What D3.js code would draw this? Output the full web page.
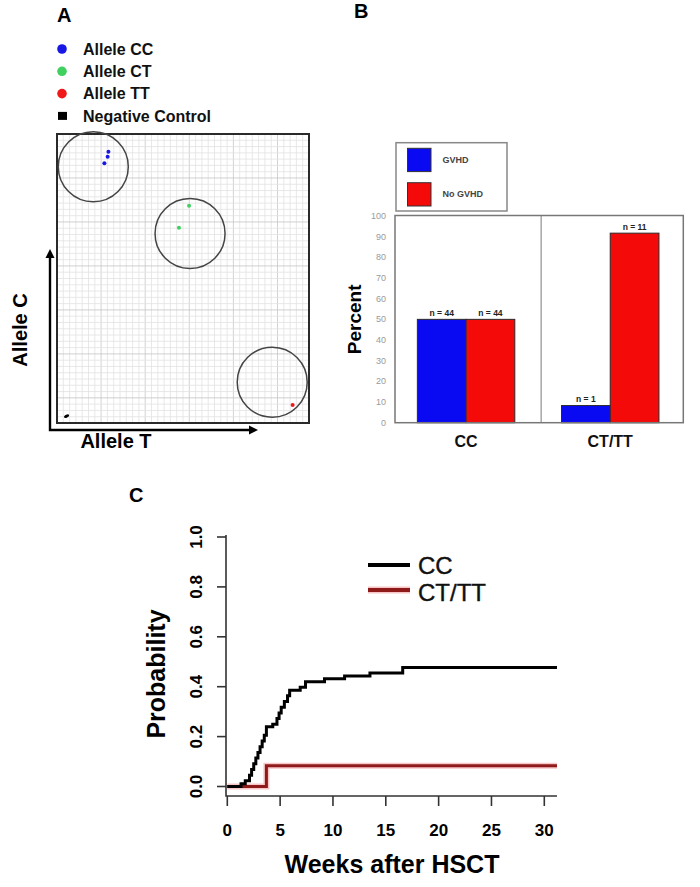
<!DOCTYPE html>
<html><head><meta charset="utf-8">
<script src="https://cdn.jsdelivr.net/npm/d3@7"></script>
<style>body{margin:0;background:#fff}svg{display:block}text{font-family:"Liberation Sans",Arial,sans-serif}</style>
</head><body><svg id="c" width="700" height="887"></svg>
<script>
// ---------- Panel A data ----------
const legendALabels = ["Allele CC", "Allele CT", "Allele TT", "Negative Control"];
const legendAColors = ["#1717e6", "#3fd060", "#f01818", "#000000"];
const clusterX = [0.144, 0.528, 0.854];
const clusterY = [0.887, 0.656, 0.141];
const pointX = [0.204, 0.201, 0.188, 0.524, 0.484, 0.935];
const pointY = [0.939, 0.921, 0.899, 0.752, 0.676, 0.062];
const pointGroup = [0, 0, 0, 1, 1, 2];
const ntcX = [0.038];
const ntcY = [0.024];

// ---------- Panel B data ----------
const genotypes = ["CC", "CT/TT"];
const outcomes = ["GVHD", "No GVHD"];
const outcomeColors = ["#0a0af2", "#f50a0a"];
const gvhdPct = [50, 8.3];
const noGvhdPct = [50, 91.7];
const gvhdN = ["n = 44", "n = 1"];
const noGvhdN = ["n = 44", "n = 11"];
const pctTicks = [0, 10, 20, 30, 40, 50, 60, 70, 80, 90, 100];

// ---------- Panel C data ----------
const weekTicks = [0, 5, 10, 15, 20, 25, 30];
const probTicks = [0.0, 0.2, 0.4, 0.6, 0.8, 1.0];
const ccWeeks = [0, 1.3, 1.7, 2.1, 2.3, 2.5, 2.7, 2.9, 3.1, 3.3, 3.5, 3.7, 4.3, 4.7, 4.9, 5.1, 5.4, 5.7, 5.9, 6.9, 7.4, 9.2, 11.1, 13.5, 16.6];
const ccProb = [0, 0.011, 0.023, 0.045, 0.068, 0.091, 0.114, 0.136, 0.159, 0.182, 0.205, 0.239, 0.25, 0.273, 0.295, 0.318, 0.341, 0.364, 0.386, 0.398, 0.42, 0.432, 0.443, 0.455, 0.477];
const ctWeeks = [0, 3.7];
const ctProb = [0, 0.083];
const lastWeek = 31.2;
const survLabels = ["CC", "CT/TT"];

const svg = d3.select("#c");
svg.append("rect").attr("width", 700).attr("height", 887).attr("fill", "#fff");

// ================= Panel A =================
const A = svg.append("g");
A.append("text").attr("x", 57).attr("y", 22).attr("font-size", 20).attr("font-weight", "bold").text("A");
legendALabels.forEach((l, i) => {
  const cy = 49 + i * 22.3;
  if (i < 3) A.append("circle").attr("cx", 62).attr("cy", cy).attr("r", 4.8).attr("fill", legendAColors[i]);
  else A.append("rect").attr("x", 58).attr("y", cy - 4).attr("width", 9).attr("height", 8).attr("fill", "#000");
  A.append("text").attr("x", 83).attr("y", cy + 5.8).attr("font-size", 16).attr("font-weight", "bold").attr("fill", "#111").text(l);
});
const ax = d3.scaleLinear().domain([0, 1]).range([57, 309]);
const ay = d3.scaleLinear().domain([0, 1]).range([423, 134]);
const nCols = 40, nRows = 46;
const gGrid = A.append("g");
d3.range(1, nCols).forEach(k => {
  gGrid.append("line").attr("x1", ax(k / nCols)).attr("x2", ax(k / nCols)).attr("y1", ay(0)).attr("y2", ay(1))
    .attr("stroke", k % 7 === 0 ? "#c8c8c8" : "#e2e2e2").attr("stroke-width", 0.8);
});
d3.range(1, nRows).forEach(k => {
  gGrid.append("line").attr("y1", ay(k / nRows)).attr("y2", ay(k / nRows)).attr("x1", ax(0)).attr("x2", ax(1))
    .attr("stroke", (k - 4) % 7 === 0 ? "#c4c4c4" : "#e2e2e2").attr("stroke-width", 0.8);
});
A.append("rect").attr("x", ax(0)).attr("y", ay(1)).attr("width", ax(1) - ax(0)).attr("height", ay(0) - ay(1))
  .attr("fill", "none").attr("stroke", "#2a2a2a").attr("stroke-width", 2);
clusterX.forEach((cx, i) => {
  A.append("circle").attr("cx", ax(cx)).attr("cy", ay(clusterY[i])).attr("r", 35)
    .attr("fill", "none").attr("stroke", "#444").attr("stroke-width", 1.5);
});
pointX.forEach((px, i) => {
  A.append("circle").attr("cx", ax(px)).attr("cy", ay(pointY[i])).attr("r", 2).attr("fill", legendAColors[pointGroup[i]]);
});
ntcX.forEach((px, i) => {
  A.append("ellipse").attr("cx", ax(px)).attr("cy", ay(ntcY[i])).attr("rx", 2.8).attr("ry", 1.5)
    .attr("transform", `rotate(-25,${ax(px)},${ay(ntcY[i])})`).attr("fill", "#000");
});
// arrows
A.append("path").attr("d", "M50,430 L50,256 M48.8,430 L251,430").attr("stroke", "#000").attr("stroke-width", 2.4).attr("fill", "none");
A.append("path").attr("d", "M50,249 L45.5,258 L54.5,258 Z").attr("fill", "#000");
A.append("path").attr("d", "M258,430 L249,425.5 L249,434.5 Z").attr("fill", "#000");
A.append("text").attr("transform", "translate(27,330) rotate(-90)").attr("text-anchor", "middle")
  .attr("font-size", 20).attr("font-weight", "bold").text("Allele C");
A.append("text").attr("x", 116).attr("y", 448).attr("text-anchor", "middle")
  .attr("font-size", 20).attr("font-weight", "bold").text("Allele T");

// ================= Panel B =================
const B = svg.append("g");
B.append("text").attr("x", 354).attr("y", 18).attr("font-size", 20).attr("font-weight", "bold").text("B");
// legend
B.append("rect").attr("x", 396).attr("y", 142.7).attr("width", 111).attr("height", 68.3)
  .attr("fill", "#fff").attr("stroke", "#888").attr("stroke-width", 1.5);
outcomes.forEach((o, i) => {
  const y0 = 148.3 + i * 34.4;
  B.append("rect").attr("x", 407.5).attr("y", y0).attr("width", 23.5).attr("height", 23.3)
    .attr("fill", outcomeColors[i]).attr("stroke", "#333").attr("stroke-width", 1);
  B.append("text").attr("x", 442.5).attr("y", y0 + 14.5).attr("font-size", 9).attr("font-weight", "bold")
    .attr("fill", "#444").text(o);
});
const by = d3.scaleLinear().domain([0, 100]).range([422.7, 216]);
const bx = d3.scaleBand().domain(genotypes).range([395, 683.3]).paddingInner(0).paddingOuter(0);
const barW = bx.bandwidth() * 0.338;
B.selectAll(".ytl").data(pctTicks).enter().append("text")
  .attr("x", 386).attr("y", d => by(d) + 3).attr("text-anchor", "end")
  .attr("font-size", 9).attr("fill", "#9a9a9a").text(d => d);
B.append("text").attr("transform", `translate(361,${(by(0) + by(100)) / 2 + 0}) rotate(-90)`)
  .attr("text-anchor", "middle").attr("font-size", 19).attr("font-weight", "bold").text("Percent");
// bars
genotypes.forEach((g, i) => {
  const cx = bx(g) + bx.bandwidth() / 2 - 1;
  [[gvhdPct[i], gvhdN[i], 0], [noGvhdPct[i], noGvhdN[i], 1]].forEach(([v, n, k]) => {
    const x0 = k === 0 ? cx - barW : cx;
    B.append("rect").attr("x", x0).attr("y", by(v)).attr("width", barW).attr("height", by(0) - by(v))
      .attr("fill", outcomeColors[k]).attr("stroke", "#2a2a2a").attr("stroke-width", 1);
    B.append("text").attr("x", x0 + barW / 2).attr("y", by(v) - 3.5).attr("text-anchor", "middle")
      .attr("font-size", 8.5).attr("font-weight", "bold").attr("fill", "#222").text(n);
  });
  B.append("text").attr("x", cx).attr("y", 447).attr("text-anchor", "middle")
    .attr("font-size", 16).attr("font-weight", "bold").attr("fill", "#111").text(g);
});
B.append("line").attr("x1", bx(genotypes[1]) + 2).attr("x2", bx(genotypes[1]) + 2).attr("y1", by(100)).attr("y2", by(0))
  .attr("stroke", "#999").attr("stroke-width", 1.3);
B.append("rect").attr("x", 395).attr("y", by(100) - 0.5).attr("width", 288.3).attr("height", by(0) - by(100) + 0.5)
  .attr("fill", "none").attr("stroke", "#777").attr("stroke-width", 1.5);

// ================= Panel C =================
const C = svg.append("g");
C.append("text").attr("x", 129).attr("y", 502).attr("font-size", 20).attr("font-weight", "bold").text("C");
const cx = d3.scaleLinear().domain([0, 30]).range([227.3, 544.3]);
const cy = d3.scaleLinear().domain([0, 1]).range([786.5, 537]);
const axisY = 796, axisX = 226;
C.append("path").attr("d", `M${axisX},${cy(1) - 2} L${axisX},${axisY} L${cx(lastWeek)},${axisY}`)
  .attr("fill", "none").attr("stroke", "#333").attr("stroke-width", 1.6);
weekTicks.forEach(t => {
  C.append("line").attr("x1", cx(t)).attr("x2", cx(t)).attr("y1", axisY).attr("y2", axisY + 10).attr("stroke", "#333").attr("stroke-width", 1.6);
  C.append("text").attr("x", cx(t)).attr("y", 836).attr("text-anchor", "middle").attr("font-size", 17)
    .attr("font-weight", "bold").text(t);
});
probTicks.forEach(t => {
  C.append("line").attr("x1", axisX - 9).attr("x2", axisX).attr("y1", cy(t)).attr("y2", cy(t)).attr("stroke", "#333").attr("stroke-width", 1.6);
  C.append("text").attr("transform", `translate(202,${cy(t)}) rotate(-90)`).attr("text-anchor", "middle")
    .attr("font-size", 17).attr("font-weight", "bold").text(t.toFixed(1));
});
C.append("text").attr("x", 392).attr("y", 873).attr("text-anchor", "middle").attr("font-size", 25)
  .attr("font-weight", "bold").text("Weeks after HSCT");
C.append("text").attr("transform", "translate(165,674) rotate(-90)").attr("text-anchor", "middle")
  .attr("font-size", 25).attr("font-weight", "bold").text("Probability");
const stepLine = d3.line().x(d => cx(d[0])).y(d => cy(d[1])).curve(d3.curveStepAfter);
const ctPts = ctWeeks.map((w, i) => [w, ctProb[i]]).concat([[lastWeek, ctProb[ctProb.length - 1]]]);
const ccPts = ccWeeks.map((w, i) => [w, ccProb[i]]).concat([[lastWeek, ccProb[ccProb.length - 1]]]);
C.append("path").attr("d", stepLine(ctPts)).attr("fill", "none").attr("stroke", "#f3a0a0").attr("stroke-width", 6).attr("opacity", 0.6);
C.append("path").attr("d", stepLine(ctPts)).attr("fill", "none").attr("stroke", "#8e1a1a").attr("stroke-width", 3);
C.append("path").attr("d", stepLine(ccPts)).attr("fill", "none").attr("stroke", "#000").attr("stroke-width", 3);
// legend
const legCols = ["#000", "#8e1a1a"];
survLabels.forEach((l, i) => {
  const ly = 565 + i * 25;
  if (i === 1) C.append("line").attr("x1", 368).attr("x2", 410).attr("y1", ly).attr("y2", ly).attr("stroke", "#f3a0a0").attr("stroke-width", 7).attr("opacity", 0.6);
  C.append("line").attr("x1", 368).attr("x2", 410).attr("y1", ly).attr("y2", ly).attr("stroke", legCols[i]).attr("stroke-width", 4);
  C.append("text").attr("x", 418).attr("y", ly + 9 + i * 2).attr("font-size", 24).attr("fill", "#111")
    .attr("stroke", "#111").attr("stroke-width", 0.4).text(l);
});
</script></body></html>
